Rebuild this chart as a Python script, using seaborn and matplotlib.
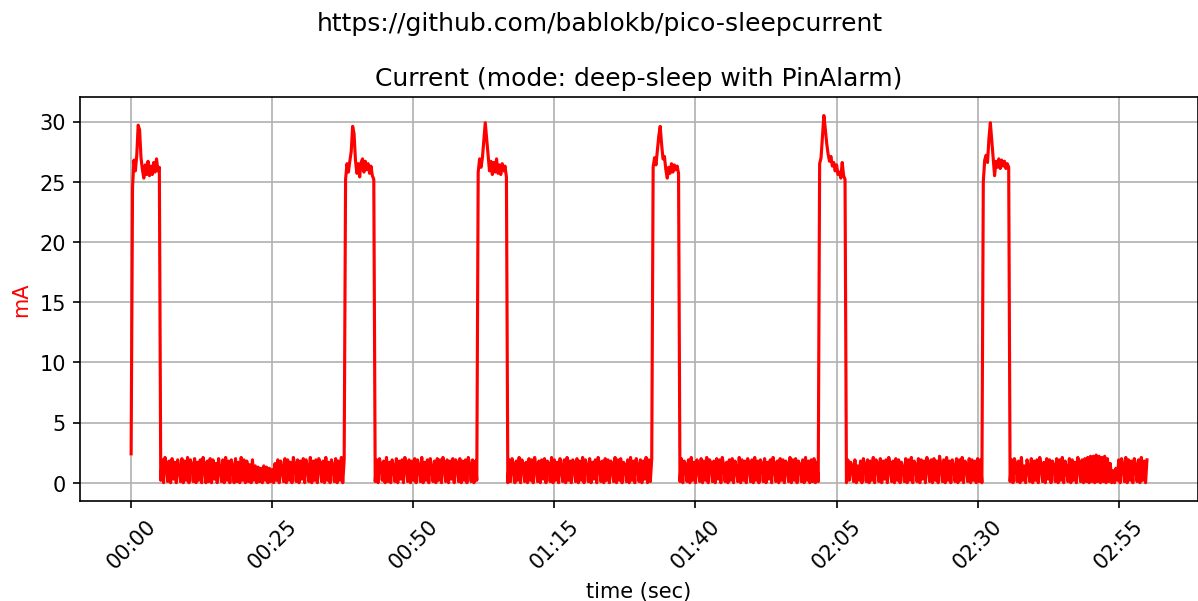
import numpy as np
import pandas as pd
import matplotlib
matplotlib.use("Agg")
import matplotlib.pyplot as plt
from matplotlib.ticker import MultipleLocator, FuncFormatter
import seaborn as sns

# sample spacing of the logged current (seconds)
dt = 0.25

# start time (sec) of each recorded segment: pulse / sleep / pulse / sleep ...
seg_start = [0.0, 5.25, 38.0, 43.25, 61.5, 66.75,
             92.5, 97.25, 122.0, 126.75, 151.0, 155.75]

pulse1 = [2.4, 24.5, 26.8, 25.9, 27.2, 29.7, 29.3, 27.0, 26.0, 25.3,
          26.4, 25.6, 26.7, 25.5, 26.3, 25.6, 26.6, 25.8, 26.9, 25.9, 26.2]
gap1 = [0.2, 1.9, 0.0, 2.1, 1.6, 0.1, 1.8, 0.0, 2.0, 0.3,
        1.7, 0.0, 1.9, 1.2, 0.1, 2.0, 0.0, 1.8, 0.2, 2.1,
        0.0, 1.9, 1.5, 0.1, 2.0, 0.0, 1.7, 0.2, 1.9, 0.0,
        2.1, 1.4, 0.0, 1.8, 0.1, 2.0, 0.0, 1.9, 0.3, 1.6,
        0.0, 2.0, 1.1, 0.1, 1.9, 0.0, 2.1, 0.2, 1.8, 0.0,
        1.9, 1.3, 0.0, 2.0, 0.1, 1.7, 0.0, 2.1, 0.2, 1.9,
        0.0, 1.8, 0.1, 1.5, 0.0, 1.9, 0.2, 1.4, 0.0, 1.3,
        0.1, 1.2, 0.0, 1.4, 0.2, 1.3, 0.0, 1.2, 0.1, 1.1,
        0.0, 1.6, 0.2, 1.9, 0.0, 1.8, 1.2, 0.1, 2.0, 0.0,
        1.9, 0.2, 1.7, 0.0, 2.1, 1.5, 0.1, 1.9, 0.0, 1.8,
        0.3, 2.0, 0.0, 1.9, 1.3, 0.1, 2.1, 0.0, 1.8, 0.2,
        1.9, 0.0, 2.0, 1.6, 0.1, 1.8, 0.0, 2.1, 0.2, 1.7,
        0.0, 1.9, 1.4, 0.1, 2.0, 0.0, 1.8, 0.2, 2.1, 0.0,
        1.9]
pulse2 = [25.2, 26.5, 25.8, 26.7, 27.5, 29.6, 29.0, 26.8, 25.7, 26.5,
          25.4, 26.6, 26.9, 25.8, 26.7, 26.0, 26.5, 25.7, 26.3, 25.5, 25.2]
gap2 = [0.1, 1.9, 0.0, 2.0, 1.5, 0.2, 1.8, 0.0, 2.1, 0.1,
        1.7, 0.0, 1.9, 1.3, 0.1, 2.0, 0.0, 1.8, 0.3, 1.9,
        0.0, 2.1, 1.6, 0.1, 1.9, 0.0, 1.8, 0.2, 2.0, 0.0,
        1.9, 1.4, 0.1, 2.1, 0.0, 1.7, 0.2, 1.9, 0.0, 2.0,
        1.2, 0.1, 1.8, 0.0, 2.0, 0.2, 1.9, 0.0, 2.1, 1.5,
        0.1, 1.9, 0.0, 1.8, 0.3, 2.0, 0.0, 1.9, 1.6, 0.1,
        2.0, 0.0, 1.8, 0.2, 1.9, 0.0, 2.1, 1.4, 0.1, 1.9,
        0.0, 1.8, 0.2]
pulse3 = [25.8, 26.9, 26.2, 27.0, 28.4, 29.9, 28.6, 27.2, 25.9, 26.7,
          25.6, 26.6, 25.8, 26.9, 25.7, 26.4, 25.6, 26.5, 25.9, 26.3, 25.4]
gap3 = [0.0, 1.9, 0.1, 2.0, 1.4, 0.0, 1.8, 0.2, 2.1, 0.0,
        1.9, 1.5, 0.1, 1.7, 0.0, 2.0, 0.2, 1.9, 0.0, 2.1,
        1.3, 0.1, 1.8, 0.0, 1.9, 0.3, 2.0, 0.0, 1.8, 1.6,
        0.1, 2.1, 0.0, 1.9, 0.2, 1.7, 0.0, 2.0, 1.2, 0.1,
        1.9, 0.0, 2.1, 0.2, 1.8, 0.0, 1.9, 1.5, 0.1, 2.0,
        0.0, 1.8, 0.2, 2.1, 0.0, 1.9, 1.4, 0.1, 2.0, 0.0,
        1.7, 0.3, 1.9, 0.0, 2.1, 1.6, 0.1, 1.8, 0.0, 2.0,
        0.2, 1.9, 0.0, 1.8, 1.3, 0.1, 2.1, 0.0, 1.9, 0.2,
        2.0, 0.0, 1.7, 1.5, 0.1, 1.9, 0.0, 2.1, 0.2, 1.8,
        0.0, 2.0, 1.4, 0.1, 1.9, 0.0, 1.8, 0.3, 2.1, 0.0,
        1.9, 0.1, 2.0]
pulse4 = [26.2, 27.0, 26.4, 27.6, 28.8, 29.6, 28.1, 26.9, 27.1, 26.0,
          25.3, 26.2, 25.7, 26.5, 25.8, 26.4, 26.0, 26.3, 25.7]
gap4 = [0.1, 2.0, 0.0, 1.8, 1.5, 0.1, 1.9, 0.0, 2.1, 0.2,
        1.7, 0.0, 1.9, 1.3, 0.1, 2.0, 0.0, 1.8, 0.2, 2.1,
        0.0, 1.9, 1.6, 0.1, 1.8, 0.0, 2.0, 0.3, 1.9, 0.0,
        2.1, 1.4, 0.1, 1.7, 0.0, 1.9, 0.2, 2.0, 0.0, 1.8,
        1.2, 0.1, 2.1, 0.0, 1.9, 0.2, 1.8, 0.0, 2.0, 1.5,
        0.1, 1.9, 0.0, 2.1, 0.2, 1.8, 0.0, 1.9, 1.6, 0.1,
        2.0, 0.0, 1.7, 0.3, 1.9, 0.0, 2.1, 1.4, 0.1, 1.8,
        0.0, 2.0, 0.2, 1.9, 0.0, 1.8, 1.3, 0.1, 2.1, 0.0,
        1.9, 0.2, 2.0, 0.0, 1.8, 1.5, 0.1, 1.9, 0.0, 2.1,
        0.2, 1.8, 0.0, 1.9, 0.1, 2.0, 0.0, 1.7, 0.1]
pulse5 = [26.5, 27.0, 28.7, 30.5, 29.4, 28.2, 27.3, 26.7, 27.1, 26.3,
          26.6, 25.9, 26.4, 25.6, 25.8, 25.3, 26.6, 25.5, 25.2]
gap5 = [0.0, 1.9, 0.2, 1.7, 1.3, 0.1, 1.9, 0.0, 1.4, 0.2,
        1.8, 0.0, 2.0, 1.5, 0.1, 1.9, 0.0, 1.8, 0.2, 2.1,
        0.0, 1.9, 1.6, 0.1, 2.0, 0.0, 1.8, 0.3, 1.9, 0.0,
        2.1, 1.4, 0.1, 1.8, 0.0, 2.0, 0.2, 1.9, 0.0, 1.7,
        1.2, 0.1, 2.0, 0.0, 1.9, 0.2, 2.1, 0.0, 1.8, 1.5,
        0.1, 2.0, 0.0, 1.9, 0.3, 1.8, 0.0, 2.1, 1.6, 0.1,
        1.9, 0.0, 2.0, 0.2, 1.8, 0.0, 2.2, 1.4, 0.1, 1.9,
        0.0, 2.1, 0.2, 1.8, 0.0, 1.9, 1.3, 0.1, 2.0, 0.0,
        1.9, 0.2, 2.1, 0.0, 1.8, 1.5, 0.1, 2.0, 0.0, 1.9,
        0.2, 1.8, 0.0, 2.0, 0.1, 1.9, 0.0]
pulse6 = [25.0, 26.8, 27.2, 26.6, 28.6, 29.9, 28.4, 26.9, 25.5, 26.7,
          26.2, 26.9, 26.1, 26.8, 26.3, 26.7, 26.1, 26.5, 26.2]
gap6 = [0.1, 1.9, 0.0, 2.0, 1.6, 0.1, 1.8, 0.0, 2.1, 0.2,
        1.4, 0.0, 1.9, 1.3, 0.1, 2.0, 0.0, 1.8, 0.2, 1.9,
        0.0, 2.1, 1.5, 0.1, 1.7, 0.0, 2.0, 0.3, 1.9, 0.0,
        1.8, 1.4, 0.1, 2.0, 0.0, 1.9, 0.2, 2.1, 0.0, 1.8,
        1.2, 0.1, 2.0, 0.0, 1.9, 0.2, 1.7, 0.0, 2.1, 1.5,
        0.1, 1.9, 0.0, 2.0, 0.1, 2.1, 0.0, 2.2, 0.1, 2.2,
        0.0, 2.3, 0.1, 2.2, 0.0, 2.1, 0.1, 2.2, 0.0, 2.0,
        0.1, 1.6, 0.0, 1.0, 0.0, 1.2, 0.2, 1.9, 0.0, 2.0,
        1.5, 0.1, 2.1, 0.0, 1.9, 0.2, 1.8, 0.0, 2.0, 1.4,
        0.1, 1.9, 0.0, 2.1, 0.2, 1.8, 0.0, 1.9]

segments = [pulse1, gap1, pulse2, gap2, pulse3, gap3,
            pulse4, gap4, pulse5, gap5, pulse6, gap6]

frames = []
for start, vals in zip(seg_start, segments):
    t = start + np.arange(len(vals)) * dt
    frames.append(pd.DataFrame({"t": t, "mA": vals}))
df = pd.concat(frames, ignore_index=True)


def mmss(x, pos):
    x = int(round(x))
    return "%02d:%02d" % (x // 60, x % 60)


fig, ax = plt.subplots(figsize=(7.993, 4.013), dpi=150)
fig.subplots_adjust(left=0.067, right=0.999, top=0.837, bottom=0.166)

sns.lineplot(data=df, x="t", y="mA", color="red", linewidth=1.5, ax=ax)

ax.xaxis.set_major_locator(MultipleLocator(25))
ax.xaxis.set_major_formatter(FuncFormatter(mmss))
plt.setp(ax.get_xticklabels(), rotation=45)
ax.grid(True)

ax.set_xlabel("time (sec)")
ax.set_ylabel("mA", color="red")
ax.set_title("Current (mode: deep-sleep with PinAlarm)")
fig.suptitle("https://github.com/bablokb/pico-sleepcurrent")

fig.savefig("out.png", dpi=150)
